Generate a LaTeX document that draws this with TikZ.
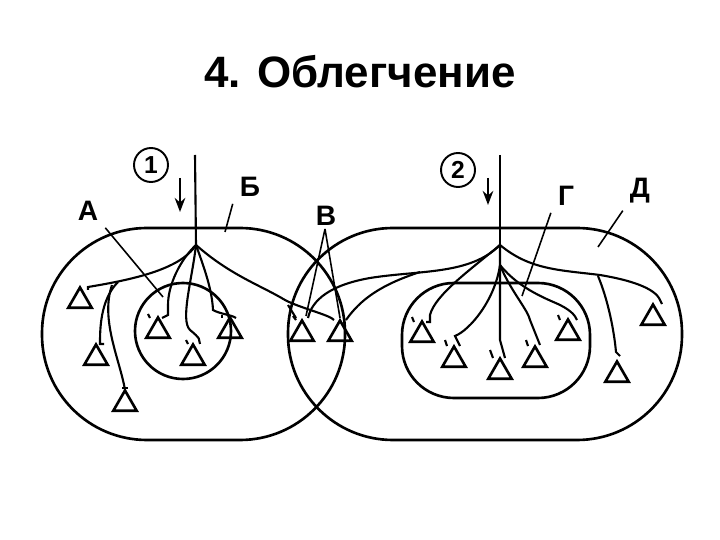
\documentclass[tikz,border=0pt]{standalone}
\usepackage{fontspec}
\setmainfont{Liberation Sans}
\usetikzlibrary{shapes.geometric,arrows.meta}
\begin{document}
\begin{tikzpicture}[x=0.02cm,y=-0.02cm,line width=1.5pt,
  tri/.style={draw,regular polygon,regular polygon sides=3,minimum size=27*0.02cm,inner sep=0pt,line width=1.5pt},
  lbl/.style={font=\bfseries\fontsize{16}{16}\selectfont},
  num/.style={draw,circle,minimum size=34*0.02cm,inner sep=0pt,line width=1.1pt,font=\bfseries\fontsize{14}{14}\selectfont},
  ax/.style={line width=1.2pt},
  lead/.style={line width=0.9pt},
  arr/.style={-{Stealth[length=8pt,width=6pt]},line width=1.4pt}]
\useasboundingbox (0,0) rectangle (720,540);
\node[font=\bfseries\fontsize{25}{25}\selectfont] (title) at (360,72) {4. Облегчение};
% outer regions
\draw[rounded corners=105*0.02cm] (42,228) rectangle (345,440);
\draw[rounded corners=105*0.02cm] (288,228) rectangle (682,440);
\draw (183,331) circle[radius=48];
\draw[rounded corners=52*0.02cm] (402,283) rectangle (590,398);
% triangles
\foreach \n/\x/\y in {t1/80/301,t2/96/358,t3/125/404,t4/158/331,t5/193/358,t6/230/331,t7/302/334,t8/340/334,t9/422/335,t10/454/360,t11/500/372,t12/535/360,t13/568/333,t14/653/318,t15/617/375}
  \node[tri] (\n) at (\x,\y) {};
% neuron 1
\coordinate (s1) at (195,155);
\coordinate (b1) at (196,245);
\draw[ax] (s1) -- (b1);
\draw[ax] (b1) .. controls (180,270) and (130,280) .. (88,287) -- ++(0,3);
\draw[ax] (118,282) .. controls (100,300) and (100,330) .. (100,344) -- ++(4,0);
\draw[ax] (112,285) .. controls (100,320) and (120,360) .. (125,390);
\draw[ax] (122,388) -- (128,388);
\draw[ax] (b1) .. controls (180,260) and (168,285) .. (168,305) -- (168,315) -- (162,318);
\draw[ax] (150,318) -- (148,314);
\draw[ax] (b1) .. controls (192,280) and (180,320) .. (190,330) .. controls (200,338) and (200,340) .. (200,344);
\draw[ax] (188,344) -- (186,340);
\draw[ax] (b1) .. controls (205,270) and (212,290) .. (213,310) .. controls (220,314) and (232,315) .. (236,318);
\draw[ax] (222,318) -- (222,315);
\draw[ax] (b1) .. controls (230,275) and (260,285) .. (285,300) .. controls (300,308) and (330,315) .. (334,320);
\draw[ax] (296,320) -- (293,316);
\draw[ax] (288,305) -- (296,318);
% neuron 2
\coordinate (s2) at (500,155);
\coordinate (b2) at (500,245);
\draw[ax] (s2) -- (b2);
\draw[ax] (b2) .. controls (470,275) and (420,270) .. (370,278) .. controls (330,285) and (312,300) .. (308,318);
\draw[ax] (420,272) .. controls (380,285) and (360,300) .. (346,320);
\draw[ax] (b2) .. controls (470,270) and (435,295) .. (430,315) -- (430,322) -- (426,322);
\draw[ax] (414,322) -- (412,317);
\draw[ax] (500,265) .. controls (495,300) and (470,330) .. (455,336) -- (460,346);
\draw[ax] (447,346) -- (445,340);
\draw[ax] (b2) -- (500,340) -- (505,358);
\draw[ax] (493,358) -- (490,350);
\draw[ax] (500,265) .. controls (510,290) and (528,310) .. (530,320) -- (540,345);
\draw[ax] (528,346) -- (526,340);
\draw[ax] (500,265) .. controls (520,290) and (550,300) .. (560,305) .. controls (570,310) and (575,315) .. (577,320);
\draw[ax] (560,320) -- (558,315);
\draw[ax] (b2) .. controls (530,270) and (560,270) .. (600,275) .. controls (630,280) and (655,288) .. (660,300) -- (662,304);
\draw[ax] (598,276) .. controls (608,300) and (614,330) .. (616,352) -- (620,356);
% labels
\node[num] (n1) at (151,165) {1};
\node[num] (n2) at (458,170) {2};
\coordinate (a1t) at (180,178); \coordinate (a1b) at (180,212);
\draw[arr] (a1t) -- (a1b);
\coordinate (a2t) at (488,178); \coordinate (a2b) at (488,205);
\draw[arr] (a2t) -- (a2b);
\node[lbl] (A) at (88,211) {А};
\node[lbl] (B) at (250,187) {Б};
\node[lbl] (V) at (326,216) {В};
\node[lbl] (G) at (566,196) {Г};
\node[lbl] (D) at (640,191) {Д};
\coordinate (pa) at (163,297);
\coordinate (pb) at (225,232);
\coordinate (v0) at (325,229);
\coordinate (pv1) at (306,316);
\coordinate (pv2) at (340,318);
\coordinate (pg) at (522,296);
\coordinate (pd) at (598,247);
\draw[lead] (A.south east) -- (pa);
\draw[lead] (B.south west) -- (pb);
\draw[lead] (v0) -- (pv1);
\draw[lead] (v0) -- (pv2);
\draw[lead] (G.south west) -- (pg);
\draw[lead] (D.south west) -- (pd);
\end{tikzpicture}
\end{document}
